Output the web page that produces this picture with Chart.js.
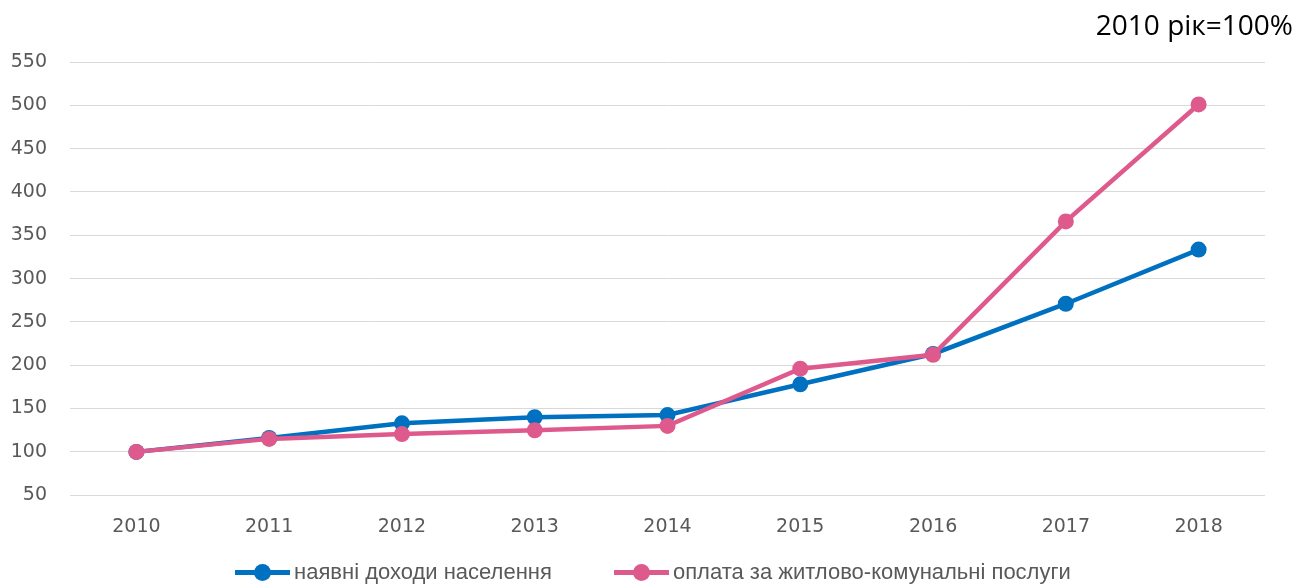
<!DOCTYPE html>
<html>
<head>
<meta charset="utf-8">
<script src="https://cdn.jsdelivr.net/npm/chart.js@4/dist/chart.umd.min.js"></script>
<style>
  body { margin: 0; background: #fff; }
  #wrap { position: relative; width: 1311px; height: 584px; }
  #note {
    position: absolute; right: 18px; top: 10px; line-height: 28px;
    font-family: "Open Sans", sans-serif; font-size: 28px; color: #000;
  }
  #legend {
    position: absolute; left: 235px; top: 559px;
    display: flex; gap: 62px;
    font-family: "Liberation Sans", sans-serif;
    font-size: 22px; color: #595959;
  }
  .item { display: flex; align-items: center; }
  .mark { position: relative; width: 55px; height: 5px; margin-right: 4px; }
  .mark i {
    position: absolute; left: 19px; top: -6px;
    width: 17px; height: 17px; border-radius: 50%;
  }
</style>
</head>
<body>
<div id="wrap">
  <canvas id="myChart" width="1311" height="584"></canvas>
  <div id="note">2010 рік=100%</div>
  <div id="legend"></div>
</div>
<script>
var years = ['2010', '2011', '2012', '2013', '2014', '2015', '2016', '2017', '2018']
var incomeLabel = 'наявні доходи населення'
var utilityLabel = 'оплата за житлово-комунальні послуги'
var income = [100, 116, 133, 140, 142.5, 178, 213, 271, 333.5]
var utility = [100, 115, 120.5, 125, 130, 196, 212, 366, 501]
var yTicks = [50, 100, 150, 200, 250, 300, 350, 400, 450, 500, 550]

var blue = '#0070c0'
var pink = '#df5a8c'

function series(label, values, color, order) {
    return {
        label: label,
        data: values,
        borderColor: color,
        backgroundColor: color,
        borderWidth: 4.5,
        pointRadius: 8,
        pointHoverRadius: 8,
        pointBorderWidth: 0,
        tension: 0,
        order: order
    }
}

var tickFont = { family: 'DejaVu Sans', size: 19 }

new Chart(document.getElementById('myChart'), {
    type: 'line',
    data: {
        labels: years,
        datasets: [
            series(incomeLabel, income, blue, 2),
            series(utilityLabel, utility, pink, 1)
        ]
    },
    options: {
        responsive: false,
        animation: false,
        devicePixelRatio: 1,
        layout: { padding: { top: 62, left: 10, right: 46, bottom: 26 } },
        plugins: { legend: { display: false }, tooltip: { enabled: false } },
        scales: {
            x: {
                offset: true,
                grid: { display: false, drawTicks: false },
                border: { display: false },
                ticks: { color: '#595959', font: tickFont, padding: 20 }
            },
            y: {
                min: yTicks[0],
                max: yTicks[yTicks.length - 1],
                afterBuildTicks: function (axis) {
                    axis.ticks = yTicks.map(function (v) { return { value: v } })
                },
                afterFit: function (axis) { axis.width = 60 },
                grid: { color: '#d9d9d9', lineWidth: 1, drawTicks: false },
                border: { display: false },
                ticks: { color: '#595959', font: tickFont, padding: 23 }
            }
        }
    }
})

// legend: line with a dot, then the series name
var legend = document.getElementById('legend')
;[[incomeLabel, blue], [utilityLabel, pink]].forEach(function (entry) {
    var item = document.createElement('div')
    item.className = 'item'
    item.innerHTML = '<span class="mark" style="background:' + entry[1] + '"><i style="background:' + entry[1] + '"></i></span><span>' + entry[0] + '</span>'
    legend.appendChild(item)
})
</script>
</body>
</html>
